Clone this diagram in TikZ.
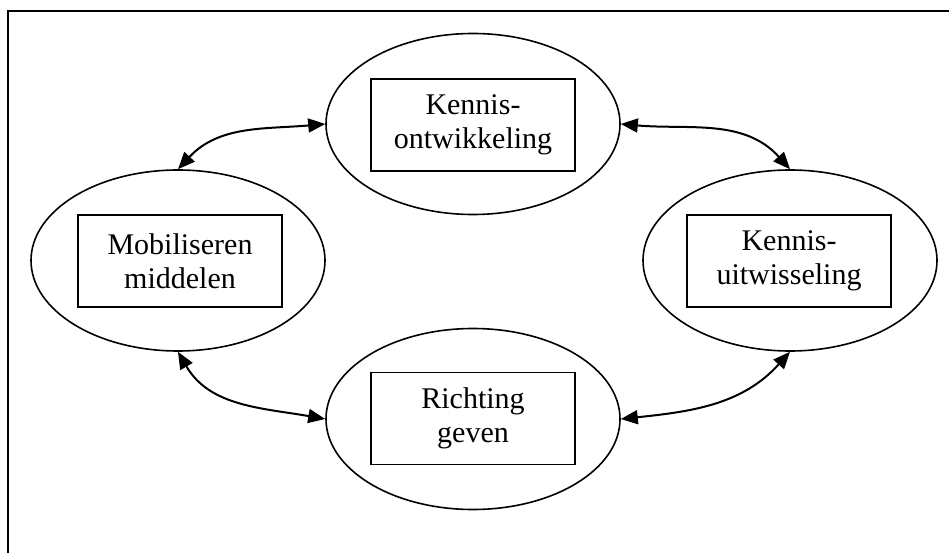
\documentclass[tikz,border=0pt]{standalone}
\usepackage{fontspec}
\setmainfont{Liberation Serif}
\usetikzlibrary{shapes.geometric,arrows.meta}
\begin{document}
\begin{tikzpicture}[x=1pt,y=1pt,
  oval/.style={draw,ellipse,line width=1.6pt,minimum width=294pt,minimum height=181pt,inner sep=0pt},
  lbl/.style={draw,line width=1.6pt,minimum width=204pt,minimum height=92pt,inner sep=0pt,align=center,
    font=\fontsize{30}{34}\selectfont},
  link/.style={line width=2pt,{Triangle[length=17pt,width=14pt]}-{Triangle[length=17pt,width=14pt]}}]
\useasboundingbox (0,0) rectangle (949,552);
\begin{scope}
\clip (0,0) rectangle (949,552);
\draw[line width=2pt] (8,541) rectangle (970,-20);
\end{scope}
\node[oval] (T) at (473,428) {};
\node[oval] (L) at (178,291.5) {};
\node[oval] (R) at (790,291.5) {};
\node[oval] (B) at (473,133) {};
\node[lbl] (tb) at (473,427) {Kennis-\\ontwikkeling};
\node[lbl] (lb) at (180,291) {Mobiliseren\\middelen};
\node[lbl] (rb) at (789,291) {Kennis-\\uitwisseling};
\node[lbl] (bb) at (473,133.5) {Richting\\geven};
\draw[link] (L.north) to[out=47,in=185] (T.west);
\draw[link] (T.east) to[out=-5,in=132] (R.north);
\draw[link] (L.south) to[out=-60,in=170] (B.west);
\draw[link] (B.east) to[out=6,in=-132] (R.south);
\end{tikzpicture}
\end{document}
